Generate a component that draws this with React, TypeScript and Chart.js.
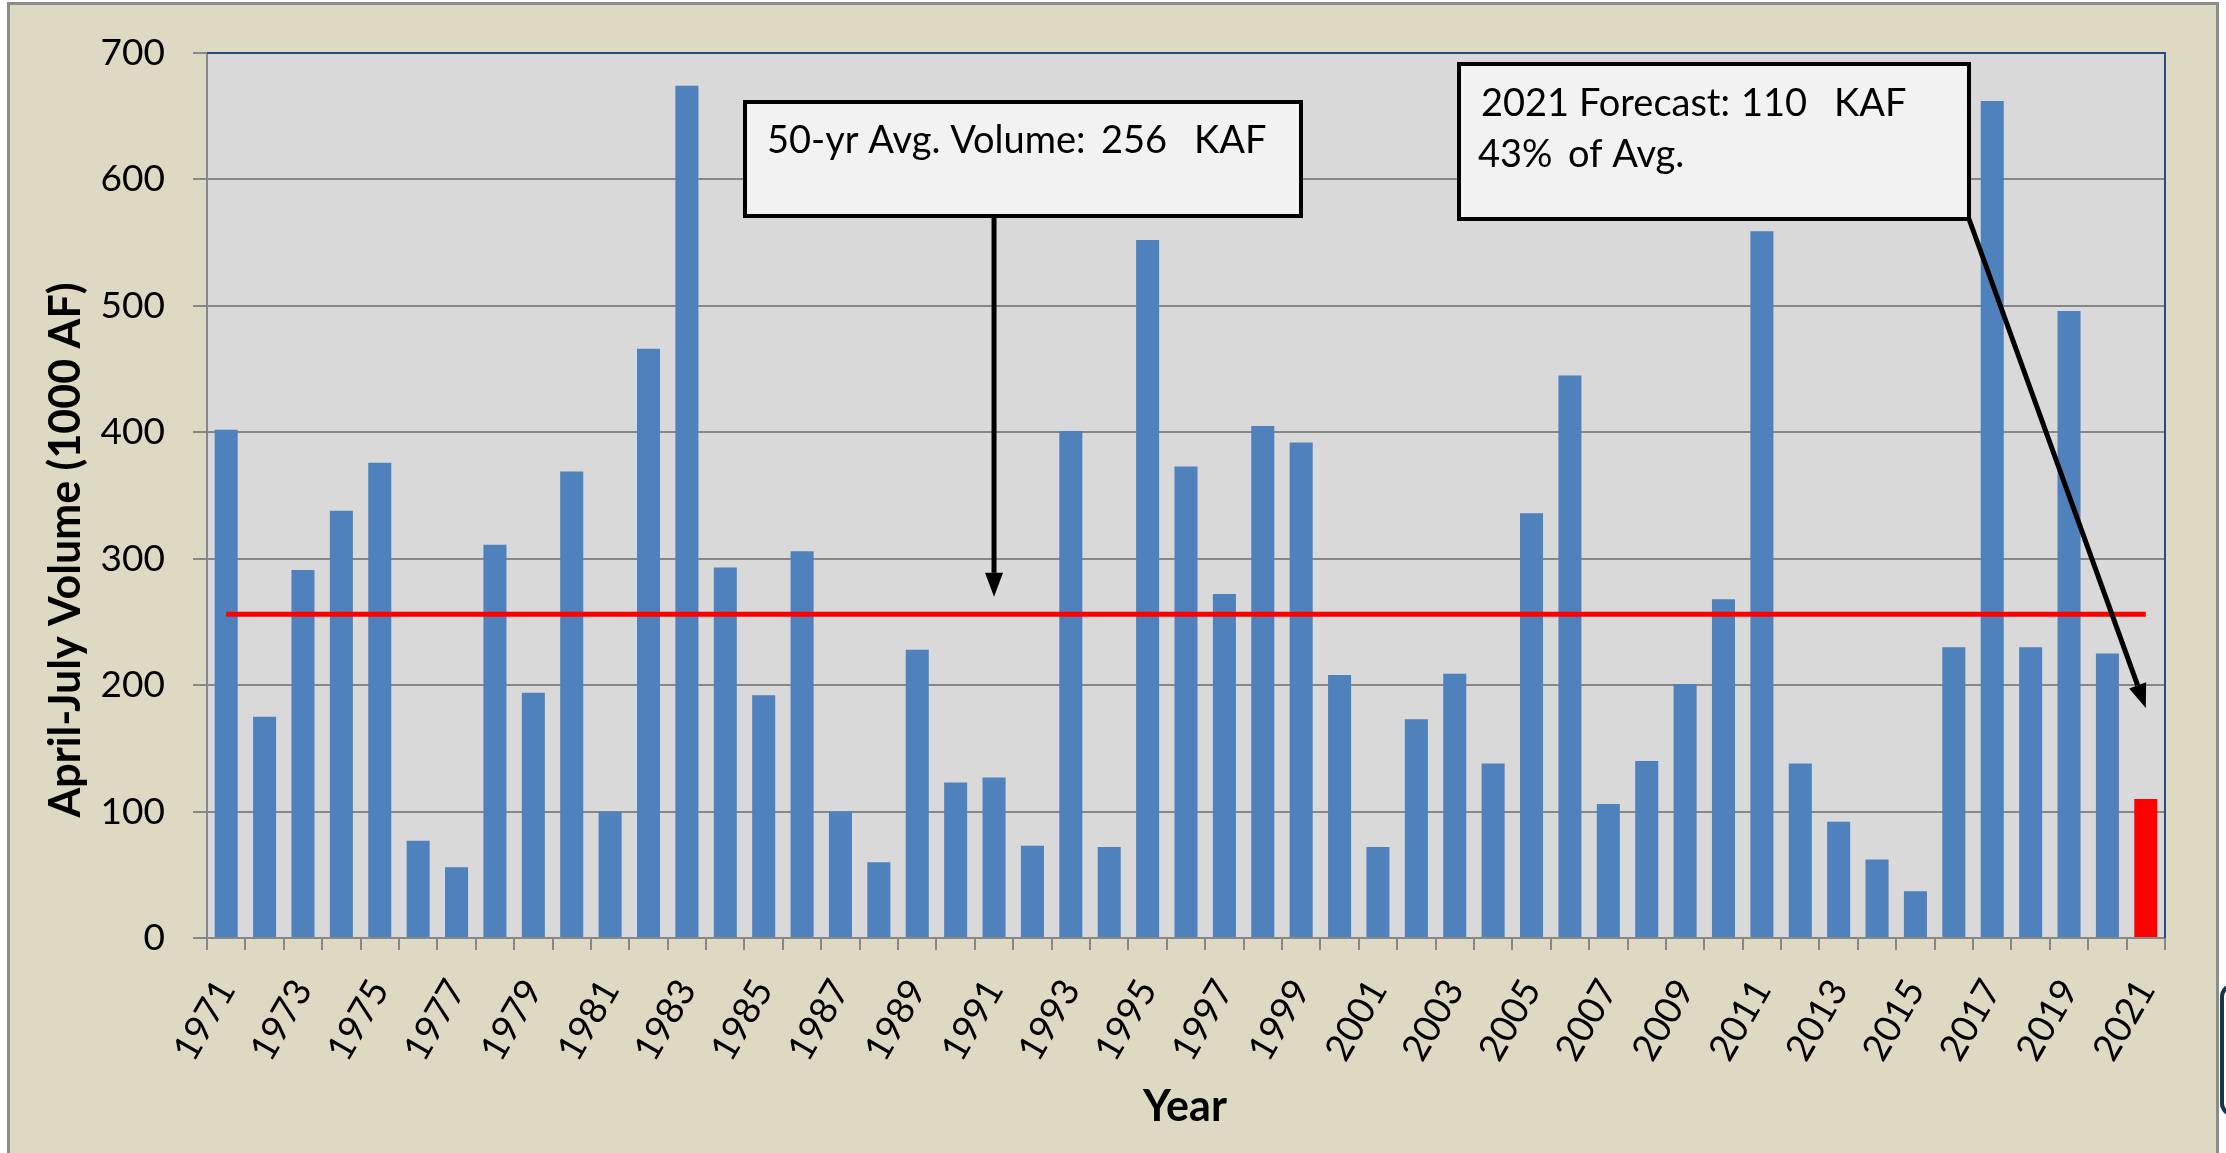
import React, { useEffect, useRef } from 'react';
import { Chart, registerables } from 'chart.js';

Chart.register(...registerables);

// ---------- data ----------
const YEARS = [
  '1971', '1972', '1973', '1974', '1975', '1976', '1977', '1978', '1979', '1980',
  '1981', '1982', '1983', '1984', '1985', '1986', '1987', '1988', '1989', '1990',
  '1991', '1992', '1993', '1994', '1995', '1996', '1997', '1998', '1999', '2000',
  '2001', '2002', '2003', '2004', '2005', '2006', '2007', '2008', '2009', '2010',
  '2011', '2012', '2013', '2014', '2015', '2016', '2017', '2018', '2019', '2020',
  '2021',
];
const VOLUMES = [
  402, 175, 291, 338, 376, 77, 56, 311, 194, 369,
  100, 466, 674, 293, 192, 306, 100, 60, 228, 123,
  127, 73, 401, 72, 552, 373, 272, 405, 392, 208,
  72, 173, 209, 138, 336, 445, 106, 140, 201, 268,
  559, 138, 92, 62, 37, 230, 662, 230, 496, 225,
  110,
];
const FORECAST_YEAR = '2021';
const AVG_VOLUME = 256;
const FORECAST_VOLUME = 110;
const PCT_OF_AVG = 43;
const Y_MIN = 0;
const Y_MAX = 700;
const Y_STEP = 100;
const AVG_LINE_ENDS = ['1971', '2021'];
const AVG_ARROW_YEAR = '1991';
const AVG_ARROW_VALUE = 270;
const FC_ARROW_VALUE = 182;

const X_TITLE = 'Year';
const Y_TITLE = 'April-July Volume (1000 AF)';

// ---------- styles ----------
const FONT = 'Lato';
const BAR_BLUE = '#4f81bd';
const RED = '#ff0000';
const PLOT_BG = '#d9d9d9';
const PAGE_BG = '#ddd9c3';
const GRID = '#878787';
const PLOT_EDGE = '#2b4a80';
const BOX_FILL = '#f2f2f2';

function drawBox(ctx: CanvasRenderingContext2D, x1: number, y1: number, x2: number, y2: number) {
  ctx.save();
  ctx.fillStyle = BOX_FILL;
  ctx.fillRect(x1, y1, x2 - x1, y2 - y1);
  ctx.strokeStyle = '#000';
  ctx.lineWidth = 4;
  ctx.strokeRect(x1, y1, x2 - x1, y2 - y1);
  ctx.restore();
}

function drawArrow(ctx: CanvasRenderingContext2D, x1: number, y1: number, x2: number, y2: number) {
  const head = 24;
  const half = 9;
  const ang = Math.atan2(y2 - y1, x2 - x1);
  const bx = x2 - head * Math.cos(ang);
  const by = y2 - head * Math.sin(ang);
  ctx.save();
  ctx.strokeStyle = '#000';
  ctx.fillStyle = '#000';
  ctx.lineWidth = 5;
  ctx.beginPath();
  ctx.moveTo(x1, y1);
  ctx.lineTo(bx, by);
  ctx.stroke();
  ctx.beginPath();
  ctx.moveTo(x2, y2);
  ctx.lineTo(bx + half * Math.sin(ang), by - half * Math.cos(ang));
  ctx.lineTo(bx - half * Math.sin(ang), by + half * Math.cos(ang));
  ctx.closePath();
  ctx.fill();
  ctx.restore();
}

const decorPlugin = {
  id: 'decor',
  beforeDraw(chart: any) {
    const { ctx, chartArea: a } = chart;
    ctx.save();
    ctx.fillStyle = PLOT_BG;
    ctx.fillRect(a.left, a.top, a.right - a.left, a.bottom - a.top);
    ctx.restore();
  },
  afterDraw(chart: any) {
    const { ctx, chartArea: a, scales } = chart;
    const xs = scales.x;
    const ys = scales.y;
    ctx.save();
    // plot area top / right edge
    ctx.strokeStyle = PLOT_EDGE;
    ctx.lineWidth = 2;
    ctx.beginPath();
    ctx.moveTo(a.left, a.top);
    ctx.lineTo(a.right, a.top);
    ctx.lineTo(a.right, a.bottom);
    ctx.stroke();

    // axis titles
    ctx.fillStyle = '#000';
    ctx.font = `bold 43px ${FONT}`;
    ctx.textAlign = 'center';
    ctx.textBaseline = 'alphabetic';
    ctx.fillText(X_TITLE, (a.left + a.right) / 2 - 1, 1121);
    ctx.save();
    ctx.translate(80, 550);
    ctx.rotate(-Math.PI / 2);
    ctx.fillText(Y_TITLE, 0, 0, 547);
    ctx.restore();

    // annotation boxes
    drawBox(ctx, 745, 102, 1301, 216);
    drawBox(ctx, 1459, 64, 1969, 219);

    ctx.fillStyle = '#000';
    ctx.font = `38px ${FONT}`;
    ctx.textAlign = 'left';
    ctx.textBaseline = 'alphabetic';
    ctx.fillText('50-yr Avg. Volume:', 767, 153);
    ctx.fillText(String(AVG_VOLUME), 1101, 153);
    ctx.fillText('KAF', 1194, 153);

    ctx.fillText(`${FORECAST_YEAR} Forecast:`, 1481, 116);
    ctx.fillText(String(FORECAST_VOLUME), 1741, 116);
    ctx.fillText('KAF', 1834, 116);
    ctx.fillText(`${PCT_OF_AVG}%`, 1478, 167);
    ctx.fillText('of Avg.', 1568, 167);

    // arrows
    const ax = xs.getPixelForValue(YEARS.indexOf(AVG_ARROW_YEAR));
    drawArrow(ctx, ax, 216, ax, ys.getPixelForValue(AVG_ARROW_VALUE));
    const fx = xs.getPixelForValue(YEARS.indexOf(FORECAST_YEAR));
    drawArrow(ctx, 1969, 219, fx, ys.getPixelForValue(FC_ARROW_VALUE));
    ctx.restore();
  },
};

export default function App() {
  const ref = useRef<HTMLCanvasElement>(null);

  useEffect(() => {
    document.body.style.overflow = 'hidden';
    const canvas = ref.current;
    if (!canvas) return;
    const barColors = YEARS.map((y) => (y === FORECAST_YEAR ? RED : BAR_BLUE));
    const chart = new Chart(canvas, {
      type: 'bar',
      data: {
        labels: YEARS,
        datasets: [
          {
            type: 'line',
            label: 'Average',
            data: AVG_LINE_ENDS.map((y) => ({ x: y, y: AVG_VOLUME })) as any,
            borderColor: RED,
            borderWidth: 5,
            pointRadius: 0,
            fill: false,
            order: 0,
          } as any,
          {
            type: 'bar',
            label: 'April-July Volume',
            data: VOLUMES,
            backgroundColor: barColors,
            borderWidth: 0,
            barPercentage: 0.6,
            categoryPercentage: 1.0,
            order: 1,
          },
        ],
      },
      options: {
        responsive: false,
        maintainAspectRatio: false,
        devicePixelRatio: 1,
        animation: false,
        events: [],
        layout: { padding: { left: 0, top: 53, right: 61, bottom: 0 } },
        plugins: {
          legend: { display: false },
          tooltip: { enabled: false },
          title: { display: false },
        },
        scales: {
          x: {
            type: 'category',
            offset: true,
            grid: {
              display: true,
              drawOnChartArea: false,
              drawTicks: true,
              tickLength: 12,
              color: GRID,
              lineWidth: 2,
              offset: true,
            },
            border: { display: true, color: GRID, width: 2, z: 1 },
            ticks: {
              autoSkip: false,
              minRotation: 60,
              maxRotation: 60,
              padding: 22,
              color: '#000',
              font: { family: FONT, size: 37 },
              callback: (_v: any, i: number) => (i % 2 === 0 ? YEARS[i] : ''),
            },
            afterFit: (s: any) => {
              s.height = 215;
              s.paddingLeft = 0;
              s.paddingRight = 0;
            },
          },
          y: {
            min: Y_MIN,
            max: Y_MAX,
            grid: {
              color: GRID,
              lineWidth: 2,
              drawTicks: true,
              tickLength: 14,
            },
            border: { display: true, color: GRID, width: 2 },
            ticks: {
              stepSize: Y_STEP,
              padding: 28,
              color: '#000',
              font: { family: FONT, size: 37 },
            },
            afterFit: (s: any) => {
              s.width = 207;
              s.paddingTop = 0;
              s.paddingBottom = 0;
            },
          },
        },
      },
      plugins: [decorPlugin],
    } as any);

    let alive = true;
    Promise.all([
      document.fonts.load(`37px ${FONT}`),
      document.fonts.load(`bold 43px ${FONT}`),
    ]).then(() => {
      if (alive) chart.update();
    }).catch(() => {});

    return () => {
      alive = false;
      chart.destroy();
    };
  }, []);

  return (
    <div style={{ position: 'fixed', left: 0, top: 0, width: 2226, height: 1153, overflow: 'hidden', background: '#fff' }}>
      <div
        style={{
          position: 'absolute', left: 7, top: 2, width: 2212, height: 1200,
          boxSizing: 'border-box', border: '3px solid #8c8c8c', background: PAGE_BG,
        }}
      />
      <div
        style={{
          position: 'absolute', left: 2220, top: 983, width: 60, height: 134,
          boxSizing: 'border-box', border: '4px solid #17364a', borderRadius: 14, background: '#fff',
        }}
      />
      <canvas
        ref={ref}
        width={2226}
        height={1153}
        style={{ position: 'absolute', left: 0, top: 0, width: 2226, height: 1153 }}
      />
    </div>
  );
}
